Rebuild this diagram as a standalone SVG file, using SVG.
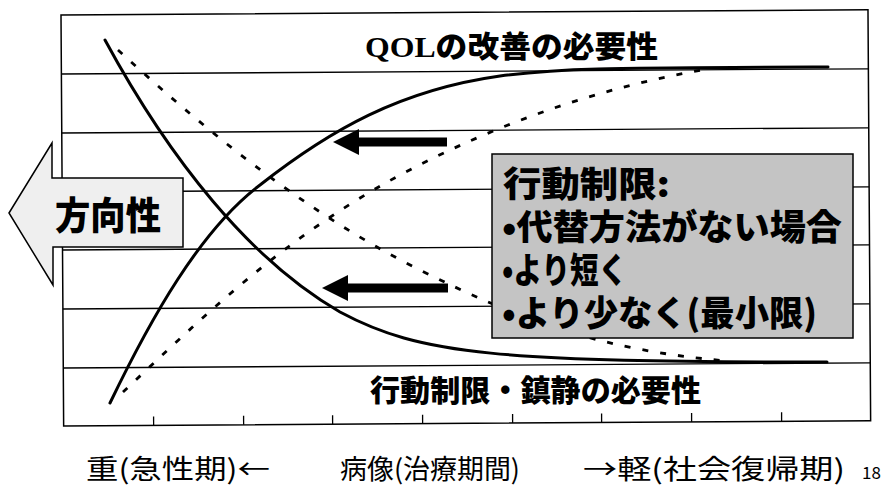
<svg xmlns="http://www.w3.org/2000/svg" width="894" height="488" viewBox="0 0 894 488">
<style>
.frame{fill:none;stroke:#000;stroke-width:1.5}
.grid{stroke:#000;stroke-width:1.3}
.tick{stroke:#000;stroke-width:1.3}
.solid{fill:none;stroke:#000;stroke-width:3;stroke-linecap:round}
.dash{fill:none;stroke:#000;stroke-width:2.8;stroke-dasharray:6 12}
.big{stroke:#000;stroke-width:9;fill:none}
.jp{font-family:"Noto Sans CJK JP","Noto Sans CJK SC",sans-serif}
.title{font-family:"Liberation Serif","Noto Sans CJK JP",serif;font-weight:900;font-size:30px}
.boxt{font-weight:900;font-size:35px}
.lbl{font-size:27px}
</style>
<defs>
<marker id="head" viewBox="0 0 26 26" markerWidth="26" markerHeight="26" markerUnits="userSpaceOnUse" refX="0" refY="13" orient="auto">
<path d="M0,0 L26,13 L0,26 Z" fill="#000"/>
</marker>
</defs>
<rect width="894" height="488" fill="#fff"/>
<g id="chart" transform="rotate(-0.37 61 15)">
<rect class="frame" x="61" y="15" width="807" height="411"/>
<line class="grid" x1="61" y1="74" x2="868" y2="74"/>
<line class="grid" x1="61" y1="133" x2="868" y2="133"/>
<line class="grid" x1="61" y1="192" x2="868" y2="192"/>
<line class="grid" x1="61" y1="250" x2="868" y2="250"/>
<line class="grid" x1="61" y1="309" x2="868" y2="309"/>
<line class="grid" x1="61" y1="368" x2="868" y2="368"/>
<g class="tick">
<line x1="151" y1="426" x2="151" y2="417"/>
<line x1="241" y1="426" x2="241" y2="417"/>
<line x1="330" y1="426" x2="330" y2="417"/>
<line x1="420" y1="426" x2="420" y2="417"/>
<line x1="510" y1="426" x2="510" y2="417"/>
<line x1="599" y1="426" x2="599" y2="417"/>
<line x1="689" y1="426" x2="689" y2="417"/>
<line x1="779" y1="426" x2="779" y2="417"/>
</g>
</g>
<g id="connectors">
<path class="solid" d="M105,40 C170,160 250,260 340,312 C420,355 500,362 827,362"/>
<path class="solid" d="M110,403 C150,320 200,230 260,185 C330,130 400,90 500,76 C560,68 600,68 828,67"/>
<path class="dash" d="M118,50 C200,125 300,210 420,270 C520,320 600,350 727,361"/>
<path class="dash" d="M123,392 C200,320 280,240 400,175 C500,122 600,88 702,70"/>
<line class="big" x1="447" y1="142" x2="359" y2="142" marker-end="url(#head)"/>
<line class="big" x1="448" y1="288" x2="348" y2="288" marker-end="url(#head)"/>
</g>
<g id="title">
<text class="title" x="365" y="57" textLength="293" lengthAdjust="spacingAndGlyphs">QOLの改善の必要性</text>
</g>
<g id="bottom-label">
<text class="jp" x="370" y="401" font-size="30" font-weight="900" textLength="331" lengthAdjust="spacingAndGlyphs">行動制限・鎮静の必要性</text>
</g>
<g id="direction">
<path d="M9,213 L52,143 L52,178 L183,178 L183,247 L53,247 L53,285 Z" fill="#efefef" stroke="#000" stroke-width="1.5"/>
<text class="jp" x="55" y="229" font-size="38" font-weight="900" textLength="106" lengthAdjust="spacingAndGlyphs">方向性</text>
</g>
<g id="restriction-box">
<rect x="492" y="154" width="361" height="184" fill="#c4c4c4" stroke="#000" stroke-width="1.5"/>
<text class="jp boxt" x="503" y="197" textLength="167" lengthAdjust="spacingAndGlyphs">行動制限:</text>
<text class="jp boxt" x="502" y="240" textLength="340" lengthAdjust="spacingAndGlyphs">•代替方法がない場合</text>
<text class="jp boxt" x="502" y="283" textLength="125" lengthAdjust="spacingAndGlyphs">•より短く</text>
<text class="jp boxt" x="502" y="326" textLength="315" lengthAdjust="spacingAndGlyphs">•より少なく(最小限)</text>
</g>
<g id="axis-labels">
<text class="jp lbl" x="86" y="479" textLength="184" lengthAdjust="spacingAndGlyphs">重(急性期)←</text>
<text class="jp lbl" x="340" y="479" textLength="180" lengthAdjust="spacingAndGlyphs">病像(治療期間)</text>
<text class="jp lbl" x="583" y="479" textLength="262" lengthAdjust="spacingAndGlyphs">→軽(社会復帰期)</text>
<text class="jp" x="862" y="479" font-size="17">18</text>
</g>
</svg>
